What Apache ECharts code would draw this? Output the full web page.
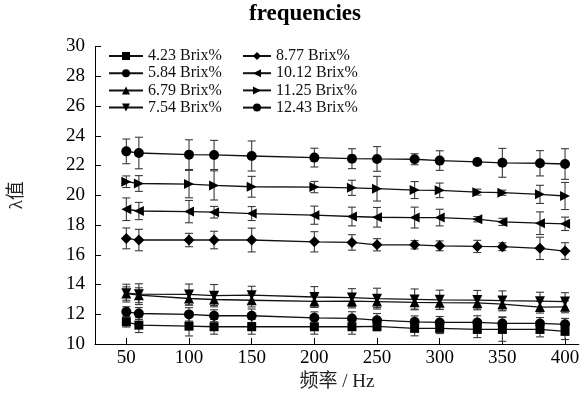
<!DOCTYPE html>
<html>
<head>
<meta charset="utf-8">
<script src="https://cdn.jsdelivr.net/npm/echarts@6/dist/echarts.min.js"></script>
<style>
  html, body { margin: 0; padding: 0; background: #fff; }
  #chart { width: 582px; height: 398px; }
</style>
</head>
<body>
<div id="chart"></div>
<script>
// 频率 (Hz)
const freq = [50, 60, 100, 120, 150, 200, 230, 250, 280, 300, 330, 350, 380, 400];
const yTicks = [10, 12, 14, 16, 18, 20, 22, 24, 26, 28, 30];
const xTicks = [50, 100, 150, 200, 250, 300, 350, 400];

// λ值 mean and error for each concentration
const v423 = [11.49, 11.27, 11.20, 11.16, 11.16, 11.16, 11.16, 11.18, 11.05, 11.05, 10.98, 10.98, 10.98, 10.85];
const e423 = [0.35, 0.50, 0.66, 0.50, 0.50, 0.50, 0.50, 0.30, 0.50, 0.35, 0.55, 0.80, 0.50, 0.55];
const v584 = [12.16, 12.05, 11.99, 11.90, 11.90, 11.76, 11.72, 11.60, 11.49, 11.45, 11.45, 11.38, 11.38, 11.32];
const e584 = [0.35, 0.40, 0.45, 0.40, 0.45, 0.40, 0.45, 0.45, 0.40, 0.40, 0.45, 0.45, 0.40, 0.40];
const v679 = [13.39, 13.28, 13.06, 12.99, 12.94, 12.86, 12.88, 12.85, 12.80, 12.78, 12.76, 12.68, 12.48, 12.50];
const e679 = [0.45, 0.50, 0.45, 0.40, 0.45, 0.40, 0.45, 0.40, 0.45, 0.45, 0.40, 0.45, 0.40, 0.40];
const v754 = [13.42, 13.35, 13.33, 13.25, 13.28, 13.16, 13.12, 13.05, 13.00, 12.97, 12.95, 12.92, 12.88, 12.85];
const e754 = [0.60, 0.70, 0.70, 0.75, 0.60, 0.70, 0.60, 0.70, 0.70, 0.65, 0.65, 0.65, 0.60, 0.60];
const v877 = [17.10, 16.99, 16.99, 16.99, 16.99, 16.87, 16.83, 16.67, 16.67, 16.60, 16.56, 16.54, 16.43, 16.25];
const e877 = [0.70, 0.72, 0.45, 0.59, 0.80, 0.68, 0.52, 0.41, 0.28, 0.33, 0.41, 0.26, 0.75, 0.56];
const v1012 = [19.06, 18.94, 18.90, 18.86, 18.77, 18.66, 18.57, 18.52, 18.50, 18.50, 18.39, 18.21, 18.12, 18.08];
const e1012 = [0.76, 0.58, 0.75, 0.39, 0.47, 0.61, 0.63, 0.66, 0.70, 0.56, 0.18, 0.24, 0.76, 0.45];
const v1125 = [20.91, 20.79, 20.75, 20.66, 20.57, 20.55, 20.50, 20.44, 20.35, 20.33, 20.21, 20.17, 20.06, 19.95];
const e1125 = [0.39, 0.53, 0.92, 0.98, 0.70, 0.38, 0.51, 0.83, 0.57, 0.49, 0.20, 0.17, 0.61, 0.91];
const v1243 = [22.95, 22.84, 22.73, 22.71, 22.64, 22.53, 22.46, 22.44, 22.42, 22.33, 22.24, 22.18, 22.15, 22.10];
const e1243 = [0.83, 1.06, 1.00, 0.98, 1.01, 0.63, 0.67, 0.83, 0.37, 0.66, 0.19, 0.97, 0.85, 1.03];

const groups = [
  { name: '4.23 Brix%', v: v423, e: e423, symbol: 'rect', size: 9 },
  { name: '5.84 Brix%', v: v584, e: e584, symbol: 'circle', size: 10 },
  { name: '6.79 Brix%', v: v679, e: e679, symbol: 'path://M5,0L10,10L0,10Z', size: 10 },
  { name: '7.54 Brix%', v: v754, e: e754, symbol: 'path://M0,0L10,0L5,10Z', size: 10 },
  { name: '8.77 Brix%', v: v877, e: e877, symbol: 'diamond', size: 11 },
  { name: '10.12 Brix%', v: v1012, e: e1012, symbol: 'path://M10,0L10,10L0,5Z', size: 10 },
  { name: '11.25 Brix%', v: v1125, e: e1125, symbol: 'path://M0,0L0,10L10,5Z', size: 10 },
  { name: '12.43 Brix%', v: v1243, e: e1243, symbol: 'circle', size: 10 }
];

const FONT = '"Liberation Serif", "Times New Roman", "Noto Sans CJK SC", serif';

function errorRender(params, api) {
  const x = api.value(0);
  const lo = api.coord([x, api.value(1)]);
  const hi = api.coord([x, api.value(2)]);
  const w = 4;
  const style = { stroke: '#3a3a3a', lineWidth: 1.1 };
  return {
    type: 'group',
    children: [
      { type: 'line', shape: { x1: lo[0], y1: lo[1], x2: hi[0], y2: hi[1] }, style },
      { type: 'line', shape: { x1: lo[0] - w, y1: lo[1], x2: lo[0] + w, y2: lo[1] }, style },
      { type: 'line', shape: { x1: hi[0] - w, y1: hi[1], x2: hi[0] + w, y2: hi[1] }, style }
    ]
  };
}

const series = [];
groups.forEach((g) => {
  series.push({
    type: 'custom',
    name: g.name + ' err',
    renderItem: errorRender,
    data: freq.map((f, i) => [f, g.v[i] - g.e[i], g.v[i] + g.e[i]]),
    z: 1,
    silent: true
  });
});
groups.forEach((g) => {
  series.push({
    type: 'line',
    name: g.name,
    data: freq.map((f, i) => [f, g.v[i]]),
    symbol: g.symbol,
    symbolSize: g.size,
    showAllSymbol: true,
    itemStyle: { color: '#000' },
    lineStyle: { color: '#111', width: 1.3 },
    z: 3
  });
});

const legendBase = {
  orient: 'vertical',
  itemHeight: 10,
  itemGap: 1.2,
  top: 48,
  padding: 0,
  textStyle: { fontFamily: FONT, fontSize: 16, color: '#111', lineHeight: 15 }
};

const chart = echarts.init(document.getElementById('chart'));
chart.setOption({
  animation: false,
  backgroundColor: '#fff',
  title: {
    text: 'frequencies',
    left: 249,
    top: 3,
    padding: 0,
    textStyle: { fontFamily: FONT, fontSize: 23, fontWeight: 'bold', color: '#000' }
  },
  legend: [
    Object.assign({}, legendBase, { left: 108, itemWidth: 34, data: groups.slice(0, 4).map((g) => g.name) }),
    Object.assign({}, legendBase, { left: 242, itemWidth: 28, data: groups.slice(4).map((g) => g.name) })
  ],
  grid: { left: 85, right: 0, top: 46.5, bottom: 54 },
  xAxis: {
    type: 'value',
    min: 25,
    max: 411,
    name: '频率 / Hz',
    nameLocation: 'middle',
    nameGap: 26,
    nameTextStyle: { fontFamily: FONT, fontSize: 19, color: '#222' },
    axisLine: { lineStyle: { color: '#000', width: 1 } },
    axisTick: { inside: true, length: 6, customValues: xTicks, lineStyle: { color: '#000' } },
    axisLabel: { customValues: xTicks, fontFamily: FONT, fontSize: 19, color: '#000', margin: 5 },
    splitLine: { show: false }
  },
  yAxis: {
    type: 'value',
    min: 10,
    max: 30,
    interval: 2,
    name: 'λ值',
    nameLocation: 'middle',
    nameGap: 68,
    nameTextStyle: { fontFamily: FONT, fontSize: 19, color: '#222' },
    axisLine: { show: true, lineStyle: { color: '#000', width: 1 } },
    axisTick: { show: true, inside: true, length: 6, lineStyle: { color: '#000' } },
    axisLabel: { fontFamily: FONT, fontSize: 19, color: '#000', margin: 10 },
    splitLine: { show: false }
  },
  series
});
</script>
</body>
</html>
